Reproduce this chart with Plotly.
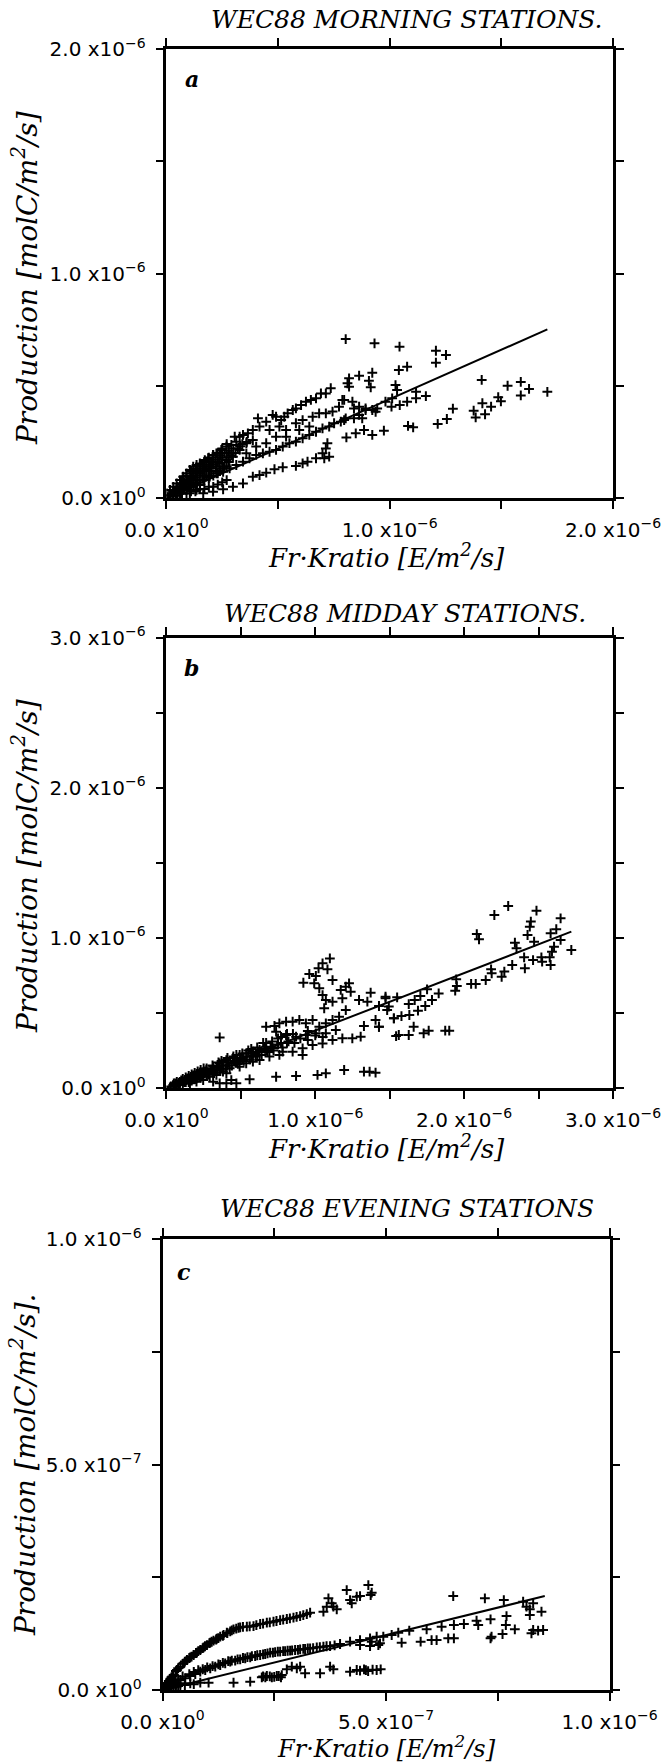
import numpy as np
import plotly.graph_objects as go

W, H = 664, 1763

# ---------------- data (panel a & b in units of 1e-6, panel c in units of 1e-7) ----------------
# Panel a: morning stations
a_x = [0.803, 0.932, 1.044, 1.207, 1.252, 1.207, 1.041, 1.078, 0.922, 0.863, 0.818, 0.811, 0.818,
       0.907, 0.915, 1.412, 1.528, 1.587, 1.624, 1.587, 1.706, 1.486, 1.498, 1.454, 1.415, 1.376,
       1.385, 1.427, 1.283, 1.256, 1.215, 1.105, 1.082, 1.162, 1.118, 1.118, 1.078, 1.045, 1.008,
       1.033, 1.026, 0.974, 0.922, 0.885, 0.848, 0.806, 0.937, 0.892, 0.840, 0.877, 0.796, 0.788,
       0.736, 0.714, 0.692, 0.670, 0.647, 0.625, 0.603, 0.580, 0.566, 0.543, 0.528, 0.514, 0.491,
       0.476, 0.447, 0.410, 0.417, 0.387, 0.365, 0.343, 0.328, 0.306, 0.313, 0.291, 0.269, 0.246,
       0.224, 0.209, 0.187, 0.172, 0.150, 0.135, 0.120, 0.105, 0.090, 0.075, 0.061, 0.046, 0.031,
       0.016, 0.001,
       1.011, 0.981, 0.944, 0.922, 0.892, 0.863, 0.840, 0.803, 0.781, 0.751, 0.729, 0.699, 0.670,
       0.640, 0.610, 0.580, 0.551, 0.521, 0.491, 0.462, 0.432, 0.402, 0.372, 0.343, 0.313, 0.283,
       0.254, 0.224, 0.194, 0.165, 0.135, 0.105, 0.075, 0.046,
       0.165, 0.209, 0.254, 0.298, 0.343, 0.387, 0.417, 0.447, 0.484, 0.521, 0.580, 0.610, 0.632,
       0.670, 0.699, 0.714, 0.721, 0.707, 0.729,
       0.358, 0.387, 0.462, 0.506, 0.536, 0.580, 0.610, 0.655, 0.684, 0.714, 0.744, 0.773, 0.796,
       0.833, 0.863, 0.328, 0.298, 0.239, 0.194, 0.269, 0.358, 0.402, 0.447, 0.491, 0.536, 0.595,
       0.640,
       0.031, 0.061, 0.090, 0.120, 0.150, 0.179, 0.061, 0.090, 0.120, 0.150, 0.016, 0.105, 0.135,
       0.075, 0.046, 0.209, 0.165, 0.135, 0.113, 0.179, 0.224, 0.254,
       0.02, 0.03, 0.04, 0.05, 0.06, 0.07, 0.08, 0.08, 0.09, 0.10, 0.10, 0.11, 0.12, 0.12, 0.13,
       0.14, 0.14, 0.15, 0.16, 0.16, 0.17, 0.18, 0.18, 0.19, 0.20, 0.20, 0.21, 0.22, 0.22, 0.23,
       0.24, 0.25, 0.26, 0.27, 0.28, 0.29, 0.30, 0.26, 0.28, 0.24, 0.32, 0.34, 0.36, 0.31, 0.33,
       0.03, 0.03, 0.05, 0.05, 0.05, 0.07, 0.07, 0.07, 0.07, 0.09, 0.09, 0.09, 0.09, 0.11, 0.11,
       0.11, 0.11, 0.13, 0.13, 0.13, 0.13, 0.15, 0.15, 0.15, 0.15, 0.17, 0.17, 0.17, 0.17, 0.19,
       0.19, 0.19, 0.19, 0.21, 0.21, 0.21, 0.21, 0.23, 0.23, 0.23, 0.23, 0.25, 0.25, 0.25, 0.25,
       0.27, 0.27, 0.27, 0.27]
a_y = [0.708, 0.689, 0.674, 0.656, 0.637, 0.603, 0.570, 0.585, 0.558, 0.545, 0.533, 0.511, 0.496,
       0.522, 0.493, 0.526, 0.500, 0.517, 0.486, 0.457, 0.473, 0.449, 0.431, 0.407, 0.422, 0.389,
       0.359, 0.373, 0.398, 0.352, 0.330, 0.315, 0.321, 0.454, 0.473, 0.444, 0.429, 0.414, 0.407,
       0.481, 0.503, 0.300, 0.281, 0.303, 0.288, 0.270, 0.384, 0.399, 0.399, 0.355, 0.347, 0.437,
       0.489, 0.466, 0.466, 0.444, 0.437, 0.429, 0.414, 0.399, 0.392, 0.377, 0.362, 0.347, 0.362,
       0.370, 0.340, 0.355, 0.318, 0.303, 0.288, 0.281, 0.273, 0.273, 0.251, 0.236, 0.229, 0.214,
       0.199, 0.192, 0.177, 0.169, 0.154, 0.147, 0.140, 0.125, 0.110, 0.095, 0.080, 0.065, 0.050,
       0.036, 0.021,
       0.444, 0.429, 0.399, 0.392, 0.392, 0.370, 0.355, 0.355, 0.340, 0.333, 0.318, 0.310, 0.295,
       0.281, 0.266, 0.251, 0.244, 0.229, 0.214, 0.206, 0.199, 0.192, 0.177, 0.162, 0.147, 0.132,
       0.117, 0.110, 0.095, 0.080, 0.065, 0.050, 0.036, 0.021,
       0.021, 0.028, 0.039, 0.050, 0.065, 0.095, 0.102, 0.113, 0.128, 0.137, 0.143, 0.154, 0.162,
       0.177, 0.199, 0.221, 0.244, 0.177, 0.184,
       0.244, 0.258, 0.303, 0.318, 0.303, 0.333, 0.347, 0.362, 0.377, 0.377, 0.385, 0.407, 0.437,
       0.429, 0.407, 0.214, 0.184, 0.154, 0.140, 0.169, 0.199, 0.229, 0.244, 0.273, 0.273, 0.303,
       0.318,
       0.028, 0.050, 0.073, 0.095, 0.110, 0.125, 0.021, 0.036, 0.050, 0.058, 0.013, 0.021, 0.036,
       0.065, 0.043, 0.162, 0.140, 0.117, 0.088, 0.095, 0.132, 0.140,
       0.01, 0.03, 0.02, 0.04, 0.03, 0.05, 0.04, 0.07, 0.06, 0.08, 0.05, 0.09, 0.07, 0.11, 0.10,
       0.08, 0.12, 0.13, 0.10, 0.14, 0.12, 0.15, 0.10, 0.13, 0.16, 0.12, 0.17, 0.14, 0.18, 0.16,
       0.19, 0.17, 0.20, 0.18, 0.21, 0.19, 0.22, 0.14, 0.16, 0.12, 0.22, 0.24, 0.25, 0.20, 0.23,
       0.01, 0.02, 0.01, 0.03, 0.05, 0.02, 0.04, 0.06, 0.08, 0.02, 0.05, 0.08, 0.10, 0.03, 0.06,
       0.09, 0.12, 0.03, 0.06, 0.09, 0.13, 0.04, 0.07, 0.11, 0.15, 0.04, 0.08, 0.12, 0.16, 0.05,
       0.09, 0.14, 0.18, 0.05, 0.10, 0.15, 0.19, 0.06, 0.11, 0.16, 0.20, 0.07, 0.13, 0.18, 0.22,
       0.08, 0.14, 0.20, 0.24]
a_fit_x = [0.0, 1.706]
a_fit_y = [0.0, 0.751]

# Panel b: midday stations
b_x = [2.203, 2.296, 2.486, 2.648, 2.448, 2.441, 2.426, 2.619, 2.581, 2.648, 2.720, 2.085, 2.100,
       2.341, 2.352, 2.470, 2.604, 2.590, 2.575, 2.581, 2.519, 2.524, 2.463, 2.403, 2.408, 2.323,
       2.270, 2.252, 2.185, 2.181, 2.145, 2.078, 2.047, 1.947, 1.940, 1.951, 1.829, 1.751, 1.706,
       1.668, 1.628, 1.784, 1.739, 1.690, 1.632, 1.579, 1.528, 1.550, 1.472, 1.483, 1.428, 1.561,
       1.628, 1.661, 1.728, 1.762, 1.873, 1.900, 1.428,
       0.358, 1.098, 1.049, 1.022, 1.082, 0.960, 1.004, 0.920, 0.993, 1.027, 1.116, 1.049, 1.071,
       1.116, 1.060, 1.171, 1.205, 1.227, 1.238, 1.182, 1.294, 1.372, 1.350, 1.472, 1.494, 1.528,
       1.543, 1.405, 1.428, 1.327, 1.305, 1.205, 1.160, 1.116, 1.071, 1.027, 0.982, 0.937, 0.893,
       0.848, 0.804, 0.759, 0.726, 0.670, 0.737, 0.804, 0.871, 0.937, 1.004, 1.071, 1.138, 1.182,
       1.249, 1.116, 1.049, 0.982, 0.915, 0.915, 0.848, 0.781, 0.715, 0.670, 0.626, 0.581, 0.536,
       0.492, 0.447, 0.403, 0.358, 0.314, 0.269, 0.225, 0.180, 0.135, 0.091, 0.046,
       0.626, 0.581, 0.536, 0.492, 0.425, 0.380, 0.336, 0.291, 0.247, 0.202, 0.158, 0.692, 0.759,
       0.403, 0.436,
       0.314, 0.358, 0.403, 0.470, 0.559, 0.737, 0.871, 1.015, 1.071, 1.194, 1.327, 1.365, 1.405,
       0.06, 0.08, 0.10, 0.12, 0.14, 0.16, 0.18, 0.20, 0.22, 0.24, 0.26, 0.28, 0.30, 0.32, 0.34,
       0.36, 0.38, 0.40, 0.42, 0.44, 0.46, 0.48, 0.50, 0.52, 0.54, 0.56, 0.58, 0.60, 0.62, 0.64,
       0.66, 0.68, 0.70, 0.72, 0.75, 0.78, 0.82, 0.86, 0.90, 0.95, 1.00, 1.05, 0.55, 0.65, 0.75,
       0.85, 0.95, 0.45, 0.35, 0.25,
       0.03, 0.05, 0.05, 0.07, 0.07, 0.09, 0.09, 0.11, 0.11, 0.13, 0.13, 0.15, 0.15, 0.17, 0.17,
       0.19, 0.19, 0.21, 0.21, 0.23, 0.23, 0.27, 0.27, 0.31, 0.31, 0.37, 0.37, 0.41, 0.41, 0.47,
       0.47, 0.51, 0.51, 0.57, 0.57, 0.61, 0.61, 0.67, 0.67, 0.71, 0.71, 0.77, 0.77, 0.81, 0.81]
b_y = [1.152, 1.212, 1.181, 1.130, 1.108, 1.074, 1.019, 1.057, 1.030, 0.986, 0.919, 1.025, 0.990,
       0.968, 0.930, 0.974, 0.941, 0.908, 0.870, 0.819, 0.870, 0.841, 0.852, 0.870, 0.797, 0.819,
       0.775, 0.741, 0.764, 0.790, 0.719, 0.693, 0.693, 0.724, 0.648, 0.679, 0.630, 0.657, 0.613,
       0.586, 0.559, 0.586, 0.546, 0.515, 0.486, 0.479, 0.464, 0.604, 0.597, 0.519, 0.546, 0.353,
       0.353, 0.408, 0.364, 0.382, 0.382, 0.382, 0.408,
       0.337, 0.863, 0.830, 0.797, 0.790, 0.759, 0.746, 0.701, 0.697, 0.664, 0.719, 0.619, 0.586,
       0.575, 0.531, 0.653, 0.675, 0.697, 0.641, 0.597, 0.586, 0.635, 0.575, 0.608, 0.542, 0.464,
       0.346, 0.453, 0.408, 0.413, 0.342, 0.519, 0.475, 0.453, 0.431, 0.408, 0.453, 0.431, 0.453,
       0.442, 0.442, 0.431, 0.413, 0.408, 0.375, 0.353, 0.342, 0.353, 0.364, 0.364, 0.386, 0.331,
       0.331, 0.320, 0.297, 0.286, 0.264, 0.220, 0.242, 0.242, 0.264, 0.275, 0.253, 0.242, 0.231,
       0.220, 0.198, 0.186, 0.164, 0.142, 0.120, 0.098, 0.075, 0.053, 0.035, 0.020,
       0.186, 0.175, 0.164, 0.142, 0.131, 0.109, 0.087, 0.075, 0.053, 0.042, 0.031, 0.209, 0.220,
       0.098, 0.053,
       0.042, 0.031, 0.031, 0.031, 0.058, 0.075, 0.080, 0.087, 0.098, 0.120, 0.109, 0.109, 0.102,
       0.03, 0.02, 0.05, 0.04, 0.06, 0.05, 0.08, 0.06, 0.09, 0.08, 0.11, 0.09, 0.12, 0.10, 0.14,
       0.12, 0.15, 0.13, 0.17, 0.15, 0.18, 0.16, 0.20, 0.18, 0.21, 0.19, 0.23, 0.21, 0.24, 0.22,
       0.26, 0.24, 0.27, 0.25, 0.29, 0.27, 0.31, 0.30, 0.33, 0.32, 0.35, 0.34, 0.25, 0.30, 0.33,
       0.36, 0.38, 0.21, 0.17, 0.13,
       0.01, 0.01, 0.03, 0.02, 0.04, 0.02, 0.04, 0.03, 0.06, 0.04, 0.07, 0.04, 0.08, 0.05, 0.09,
       0.06, 0.10, 0.07, 0.11, 0.07, 0.12, 0.09, 0.13, 0.11, 0.15, 0.13, 0.18, 0.15, 0.20, 0.17,
       0.22, 0.19, 0.23, 0.21, 0.26, 0.22, 0.27, 0.25, 0.30, 0.27, 0.31, 0.30, 0.34, 0.30, 0.36]
b_fit_x = [0.0, 2.720]
b_fit_y = [0.0, 1.041]

# Panel c: evening stations (units of 1e-7)
c_x = [0.100, 0.249, 0.398, 0.547, 0.696, 0.845, 0.994, 1.142, 1.291, 1.440, 1.589, 1.738, 1.887,
       2.036, 2.185, 2.334, 2.483, 2.632, 2.781, 2.930, 3.079, 3.228, 3.302, 3.600, 3.674, 3.823,
       3.898, 3.712, 3.786, 4.121, 4.196, 4.233, 4.345, 4.419, 4.605, 4.657,
       0.174, 0.323, 0.472, 0.621, 0.770, 0.919, 1.068, 1.217, 1.366, 1.515,
       0.174, 0.398, 0.621, 0.845, 1.068, 1.291, 1.515, 1.738, 1.962, 2.185, 2.408, 2.632, 2.855,
       3.079, 3.302, 3.451, 3.600, 3.749, 3.972, 4.196, 4.419, 4.643, 4.791, 4.419, 4.643, 4.829,
       0.286, 0.509, 0.733, 0.956, 1.180, 1.403, 1.626, 1.850, 2.073, 2.297, 2.520, 2.744, 2.967,
       3.190,
       0.398, 0.621, 0.845, 1.031, 1.589, 1.962, 2.222, 2.334, 2.446, 2.557, 2.669, 2.781, 2.893,
       3.005, 3.079, 3.190, 3.525, 3.749, 3.823, 4.196, 4.345, 4.419, 4.509, 4.791,
       4.680, 6.504, 7.212, 7.636, 8.068, 8.292, 8.143, 8.217, 8.478, 8.217, 7.696, 7.339, 7.681,
       7.882, 8.292, 8.515, 8.403, 8.254, 7.607, 7.361, 7.339, 7.026, 7.063, 6.743, 6.519, 6.519,
       6.392, 6.244, 6.132, 6.020, 5.909, 5.775, 5.521, 5.350, 5.275, 5.127, 4.940, 4.866, 4.680,
       4.881,
       0.05, 0.15, 0.20, 0.30, 0.35, 0.45, 0.50, 0.60, 0.65, 0.75, 0.80, 0.90, 0.95, 1.05, 1.10,
       1.20, 1.25, 1.35, 1.45, 1.55, 1.65, 1.70, 1.80, 1.95, 2.10, 2.25, 2.40, 2.55, 2.70, 2.85,
       3.00, 3.15,
       0.10, 0.23, 0.35, 0.45, 0.60, 0.70, 0.80, 0.90, 1.00, 1.12, 1.25, 1.35, 1.47, 1.55, 1.68,
       1.80, 1.90, 2.00, 2.12, 2.25, 2.35, 2.47, 2.58, 2.70, 2.80, 2.90, 3.03, 3.15, 3.25, 3.37,
       3.52, 3.67, 3.85,
       0.10, 0.20, 0.30, 0.50, 0.70, 2.25, 2.30, 2.40, 2.50, 2.60, 2.65, 4.55, 4.60, 4.70,
       0.02, 0.04, 0.06, 0.08, 0.10, 0.12, 0.05, 0.08, 0.12, 0.15, 0.20, 0.25, 0.03, 0.06, 0.09,
       0.14, 0.18, 0.22, 0.16, 0.25, 0.30, 0.40, 0.35]
c_y = [0.148, 0.332, 0.517, 0.665, 0.776, 0.887, 0.997, 1.093, 1.182, 1.271, 1.345, 1.389, 1.404,
       1.418, 1.463, 1.492, 1.514, 1.551, 1.574, 1.603, 1.640, 1.684, 1.714, 1.736, 1.847, 1.847,
       1.788, 2.032, 1.921, 2.216, 1.995, 1.921, 2.069, 2.083, 2.327, 2.105,
       0.222, 0.443, 0.591, 0.724, 0.827, 0.946, 1.049, 1.138, 1.219, 1.300,
       0.111, 0.222, 0.310, 0.406, 0.480, 0.554, 0.628, 0.680, 0.724, 0.776, 0.827, 0.850, 0.872,
       0.901, 0.924, 0.946, 0.960, 0.975, 1.020, 1.071, 1.108, 1.145, 1.182, 0.997, 0.975, 0.997,
       0.162, 0.259, 0.355, 0.443, 0.517, 0.591, 0.650, 0.702, 0.754, 0.798, 0.842, 0.864, 0.887,
       0.909,
       0.111, 0.148, 0.162, 0.162, 0.162, 0.185, 0.281, 0.310, 0.281, 0.310, 0.332, 0.458, 0.517,
       0.480, 0.517, 0.369, 0.369, 0.517, 0.458, 0.406, 0.443, 0.428, 0.458, 0.443,
       2.157, 2.083, 2.032, 1.995, 1.958, 1.921, 1.847, 1.788, 1.736, 1.662, 1.640, 1.566, 1.441,
       1.345, 1.330, 1.330, 1.315, 1.256, 1.241, 1.182, 1.145, 1.537, 1.441, 1.463, 1.441, 1.145,
       1.145, 1.404, 1.108, 1.108, 1.345, 1.071, 1.315, 1.049, 1.271, 1.219, 1.182, 1.034, 1.071,
       0.458,
       0.05, 0.20, 0.28, 0.42, 0.48, 0.58, 0.63, 0.71, 0.74, 0.82, 0.86, 0.93, 0.97, 1.04, 1.07,
       1.12, 1.15, 1.20, 1.26, 1.32, 1.36, 1.38, 1.40, 1.41, 1.44, 1.47, 1.50, 1.53, 1.56, 1.59,
       1.62, 1.66,
       0.07, 0.19, 0.24, 0.30, 0.35, 0.40, 0.44, 0.46, 0.50, 0.53, 0.57, 0.60, 0.64, 0.65, 0.68,
       0.71, 0.73, 0.75, 0.77, 0.79, 0.81, 0.83, 0.85, 0.86, 0.87, 0.88, 0.89, 0.91, 0.92, 0.93,
       0.95, 0.97, 0.99,
       0.03, 0.06, 0.08, 0.11, 0.13, 0.30, 0.28, 0.30, 0.29, 0.31, 0.28, 0.44, 0.42, 0.45,
       0.01, 0.03, 0.05, 0.08, 0.10, 0.14, 0.01, 0.03, 0.05, 0.08, 0.10, 0.15, 0.05, 0.10, 0.15,
       0.20, 0.25, 0.30, 0.04, 0.07, 0.12, 0.15, 0.09]
c_fit_x = [0.0, 8.552]
c_fit_y = [0.0, 2.083]

titles = ["WEC88 MORNING STATIONS.", "WEC88 MIDDAY STATIONS.", "WEC88 EVENING STATIONS"]
panel_letters = ["a", "b", "c"]
y_titles = ["Production [molC/m<sup>2</sup>/s]", "Production [molC/m<sup>2</sup>/s]",
            "Production [molC/m<sup>2</sup>/s]."]
x_title = "Fr·Kratio [E/m<sup>2</sup>/s]"

# axis ranges, labelled ticks and minor tick spacing (real units)
a_ticks = [0, 1.0e-6, 2.0e-6]
a_labels = ["0.0 x10<sup>0</sup>", "1.0 x10<sup>−6</sup>", "2.0 x10<sup>−6</sup>"]
b_ticks = [0, 1.0e-6, 2.0e-6, 3.0e-6]
b_labels = ["0.0 x10<sup>0</sup>", "1.0 x10<sup>−6</sup>", "2.0 x10<sup>−6</sup>",
            "3.0 x10<sup>−6</sup>"]
c_ticks = [0, 5.0e-7, 1.0e-6]
c_labels = ["0.0 x10<sup>0</sup>", "5.0 x10<sup>−7</sup>", "1.0 x10<sup>−6</sup>"]

# ---------------- figure ----------------
fig = go.Figure()

panels = [
    (a_x, a_y, a_fit_x, a_fit_y, 1e-6, "x", "y"),
    (b_x, b_y, b_fit_x, b_fit_y, 1e-6, "x2", "y2"),
    (c_x, c_y, c_fit_x, c_fit_y, 1e-7, "x3", "y3"),
]
for xs, ys, fx, fy, unit, xa, ya in panels:
    fig.add_trace(go.Scatter(
        x=np.array(xs) * unit, y=np.array(ys) * unit, mode="markers",
        marker=dict(symbol="cross-thin", size=7, line=dict(width=2, color="black"), color="black"),
        xaxis=xa, yaxis=ya, showlegend=False, hoverinfo="skip"))
    fig.add_trace(go.Scatter(
        x=np.array(fx) * unit, y=np.array(fy) * unit, mode="lines",
        line=dict(color="black", width=2), xaxis=xa, yaxis=ya,
        showlegend=False, hoverinfo="skip"))


def px_x(p):
    return p / W


def px_y(p):
    return 1 - p / H


def axis(rng, tv, tt, minor_step, dom, anchor, standoff):
    return dict(range=rng, tickvals=tv, ticktext=tt, domain=dom, anchor=anchor,
                automargin=False,
                ticks="outside", ticklen=8, tickwidth=2, tickcolor="black",
                minor=dict(tick0=0, dtick=minor_step, ticks="outside", ticklen=8, tickwidth=2,
                           tickcolor="black", showgrid=False),
                showline=True, linewidth=2.5, linecolor="black", mirror="ticks",
                showgrid=False, zeroline=False, ticklabelstandoff=standoff,
                tickfont=dict(family="DejaVu Sans", size=20, color="black"))


# plot-area boxes in pixels: (left, right, top, bottom)
boxes = [(166.4, 613, 49, 498), (166.4, 613, 637.5, 1088), (162.5, 609.5, 1239, 1690)]
ranges = [([0, 2e-6], a_ticks, a_labels, 0.5e-6), ([0, 3e-6], b_ticks, b_labels, 0.5e-6),
          ([0, 1e-6], c_ticks, c_labels, 2.5e-7)]

layout_axes = {}
for i, ((l, r, t, b), (rng, tv, tt, ms)) in enumerate(zip(boxes, ranges)):
    suf = "" if i == 0 else str(i + 1)
    layout_axes["xaxis" + suf] = axis(rng, tv, tt, ms, [px_x(l), px_x(r)], "y" + suf, 4)
    layout_axes["yaxis" + suf] = axis(rng, tv, tt, ms, [px_y(b), px_y(t)], "x" + suf, 6)

fig.update_layout(
    template="none",
    width=W, height=H, margin=dict(l=0, r=0, t=0, b=0, pad=0, autoexpand=False),
    paper_bgcolor="white", plot_bgcolor="white", showlegend=False,
    **layout_axes)

serif = "DejaVu Serif"
title_pos = [(407, 19), (405, 613), (407, 1208)]
letter_pos = [(192, 79), (191, 668), (184, 1272)]
ytitle_pos = [(26, 278), (26, 866), (23, 1465)]
xtitle_pos = [(386, 556), (386, 1147), (386, 1747)]
xtitle_size = [26, 26, 24]

ann = []
for i in range(3):
    ann.append(dict(text="<i>" + titles[i] + "</i>", x=px_x(title_pos[i][0]), y=px_y(title_pos[i][1]),
                    xref="paper", yref="paper", showarrow=False, xanchor="center", yanchor="middle",
                    font=dict(family=serif, size=25, color="black")))
    ann.append(dict(text="<b><i>" + panel_letters[i] + "</i></b>", x=px_x(letter_pos[i][0]),
                    y=px_y(letter_pos[i][1]), xref="paper", yref="paper", showarrow=False,
                    xanchor="center", yanchor="middle",
                    font=dict(family=serif, size=22, color="black")))
    ann.append(dict(text="<i>" + y_titles[i] + "</i>", x=px_x(ytitle_pos[i][0]), y=px_y(ytitle_pos[i][1]),
                    xref="paper", yref="paper", showarrow=False, xanchor="center", yanchor="middle",
                    textangle=-90, font=dict(family=serif, size=28, color="black")))
    ann.append(dict(text="<i>" + x_title + "</i>", x=px_x(xtitle_pos[i][0]), y=px_y(xtitle_pos[i][1]),
                    xref="paper", yref="paper", showarrow=False, xanchor="center", yanchor="middle",
                    font=dict(family=serif, size=xtitle_size[i], color="black")))
fig.update_layout(annotations=ann)

fig.write_html("out.html")
